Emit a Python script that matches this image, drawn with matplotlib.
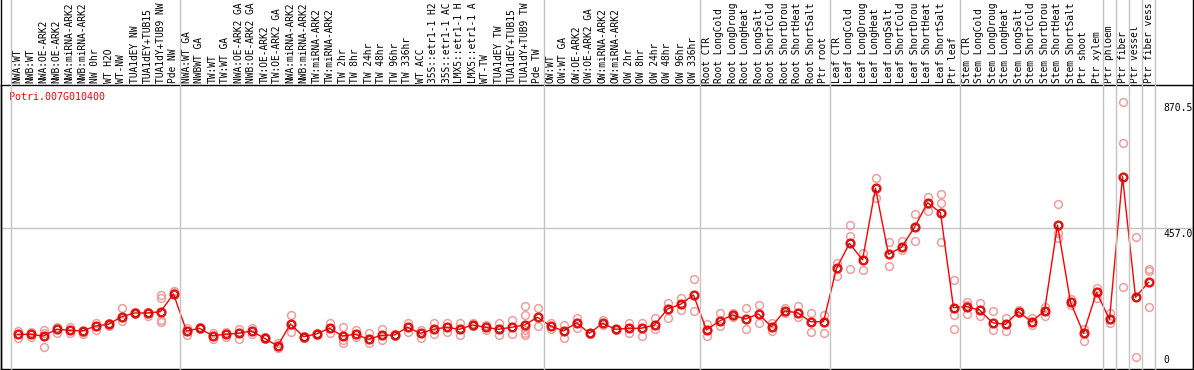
import matplotlib
matplotlib.use("Agg")
import matplotlib.pyplot as plt
from matplotlib.lines import Line2D
from matplotlib import transforms

# ---------------- data ----------------
group1 = ["NWA:WT", "NWB:WT", "NWA:OE-ARK2", "NWB:OE-ARK2", "NWA:miRNA-ARK2",
          "NWB:miRNA-ARK2", "NW 0hr", "WT H2O", "WT-NW", "TUA1dEY NW",
          "TUA1dEY+TUB15", "TUA1dY+TUB9 NW", "Pde NW"]
group2 = ["NWA:WT GA", "NWBWT GA", "TW:WT", "TW:WT GA", "NWA:OE-ARK2 GA",
          "NWB:OE-ARK2 GA", "TW:OE-ARK2", "TW:OE-ARK2 GA", "NWA:miRNA-ARK2",
          "NWB:miRNA-ARK2", "TW:miRNA-ARK2", "TW:miRNA-ARK2", "TW 2hr",
          "TW 8hr", "TW 24hr", "TW 48hr", "TW 96hr", "TW 336hr", "WT ACC",
          "35S::etr1-1 H2", "35S::etr1-1 AC", "LMX5::etr1-1 H",
          "LMX5::etr1-1 A", "WT-TW", "TUA1dEY TW", "TUA1dEY+TUB15",
          "TUA1dY+TUB9 TW", "Pde TW"]
group3 = ["OW:WT", "OW:WT GA", "OW:OE-ARK2", "OW:OE-ARK2 GA", "OW:miRNA-ARK2",
          "OW:miRNA-ARK2", "OW 2hr", "OW 8hr", "OW 24hr", "OW 48hr",
          "OW 96hr", "OW 336hr"]
group4 = ["Root CTR", "Root LongCold", "Root LongDroug", "Root LongHeat",
          "Root LongSalt", "Root ShortCold", "Root ShortDrou",
          "Root ShortHeat", "Root ShortSalt", "Ptr root"]
group5 = ["Leaf CTR", "Leaf LongCold", "Leaf LongDroug", "Leaf LongHeat",
          "Leaf LongSalt", "Leaf ShortCold", "Leaf ShortDrou",
          "Leaf ShortHeat", "Leaf ShortSalt", "Ptr leaf"]
group6 = ["Stem CTR", "Stem LongCold", "Stem LongDroug", "Stem LongHeat",
          "Stem LongSalt", "Stem ShortCold", "Stem ShortDrou",
          "Stem ShortHeat", "Stem ShortSalt", "Ptr shoot", "Ptr xylem"]
group7 = ["Ptr phloem", "Ptr fiber", "Ptr vessel", "Ptr fiber vess"]
groups = [group1, group2, group3, group4, group5, group6, group7]
# Ptr phloem..fiber vessel are each separated by their own lines
separators_after_single = ["Ptr phloem", "Ptr fiber", "Ptr vessel"]

means = [110.3, 110.3, 104.7, 126.7, 123.4, 121.1, 137.5, 143.0, 167.9, 180.0,
         180.0, 184.3, 242.2,
         121.1, 130.0, 105.7, 110.3, 113.6, 121.1, 97.2, 72.0, 144.0, 102.5,
         111.3, 130.0, 104.7, 110.3, 93.9, 107.0, 108.0, 133.2, 113.6, 126.7,
         133.2, 126.7, 140.8, 133.2, 126.7, 133.2, 140.8, 166.0,
         137.5, 121.1, 148.3, 113.6, 146.3, 126.7, 130.0, 130.0, 140.8, 193.1,
         208.5, 239.0,
         124.4, 153.8, 173.5, 160.4, 176.8, 135.2, 186.6, 181.0, 151.6, 151.6,
         326.3, 408.2, 353.5, 588.2, 372.2, 395.1, 460.6, 541.1, 508.3, 197.4,
         200.7, 189.9, 148.3, 143.0, 184.3, 151.6, 186.6, 468.1, 215.1, 113.6,
         247.8,
         159.4, 626.2, 231.4, 280.5]

replicates = [
    [121.1, 99.2], [118.8, 102.5], [124.4, 67.8, 113.6], [135.2, 113.6],
    [135.2, 113.6], [118.8, 110.3], [146.3, 124.4], [146.3, 137.5],
    [195.4, 153.8], [178, 182], [184.3, 170.2], [239.0, 228.2, 157.1, 151.6],
    [253.0, 247.8],
    [131.9, 108.0], [133, 127], [113.6, 94.9], [118.8, 102.5], [126.7, 94.9],
    [131.9, 110.3], [100, 94], [82.8, 64.5], [173.5, 118.8], [106, 99],
    [113.6, 109], [148.3, 113.6], [135.2, 91.7, 80.9], [124.4, 102.5],
    [113.6, 80.9], [126.7, 91.7], [111, 105], [146.3, 118.8], [124.4, 97.2],
    [146.3, 110.3], [148.3, 118.8], [148.3, 108.0], [146.3, 136],
    [140.8, 124.4], [148.3, 108.0], [157.1, 111.3],
    [202.9, 173.5, 124.4, 115, 108.0], [195.4, 137.5],
    [148.3, 126.7], [140.8, 97.2], [162.7, 130.0], [116, 111], [157.1, 140.8],
    [129, 124], [148.3, 113.6], [146.3, 104.7], [164.6, 126.7],
    [211.8, 162.7], [228.2, 189.9], [291.3, 187.6],
    [105.7, 143], [181.0, 137.5], [179.0, 168], [197.4, 126.7],
    [206.2, 148.3], [148.3, 121.1], [197.4, 179.0], [202.9, 167.9],
    [179.0, 116.9], [173.5, 113.6],
    [342.7, 301.1], [468.1, 432.1, 324.1], [377.4, 320.8], [620.9, 555.5],
    [413.4, 333.9], [416.7, 386.2], [503.1, 415.7], [560.7, 514.9],
    [569.6, 539.1, 413.4], [288.1, 173.5, 126.7],
    [215.1, 206.2, 176.8], [213.7, 170.2], [186.6, 124.4], [162.7, 121.1],
    [189.9, 180], [162.7, 140.8], [200.7, 170.2], [535.8, 442.9, 425.5],
    [224.9, 206.2], [126.7, 89.4], [260.9, 228.2],
    [179.0, 146.3], [870.5, 735.5, 264.2], [35.0, 427.8], [323.1, 318, 198.7],
]

title = "Potri.007G010400"
ytick_values = [0, 457.0, 870.5]
ytick_labels = ["0", "457.0", "870.5"]

# ---------------- figure ----------------
labels = [lab for g in groups for lab in g]
n = len(labels)

W, H, DPI = 1194, 370, 100
fig = plt.figure(figsize=(W / DPI, H / DPI), dpi=DPI)
ax_left, ax_right, ax_top, ax_bottom = 1, 1193, 85, 369
ax = fig.add_axes([ax_left / W, (H - ax_bottom) / H,
                   (ax_right - ax_left) / W, (ax_bottom - ax_top) / H])

col_w = 13.0
x0_px = 11.0
ax.set_xlim((ax_left - x0_px) / col_w - 0.5, (ax_right - x0_px) / col_w - 0.5)
ax.set_ylim(-3.3, 926.3)
ax.set_xticks([])
ax.set_yticks([])
for s in ax.spines.values():
    s.set_color("black")
    s.set_linewidth(1.0)

grey = "#c4c4c4"
# horizontal gridline
ax.axhline(457.0, color=grey, lw=1.0, zorder=1)

# vertical group separators, through label area
blend = transforms.blended_transform_factory(ax.transData, fig.transFigure)
bounds = [0]
acc = 0
for g in groups:
    acc += len(g)
    bounds.append(acc)
extra = [labels.index(s) + 1 for s in separators_after_single]
for b in sorted(set(bounds + extra)):
    fig.add_artist(Line2D([b - 0.5, b - 0.5], [0, 1],
                          transform=blend, color=grey, lw=1.0, zorder=0.5))

# left / right borders extended up
blend2 = transforms.blended_transform_factory(ax.transAxes, fig.transFigure)
for xa in (0, 1):
    fig.add_artist(Line2D([xa, xa], [0, 1], transform=blend2, color="black", lw=1.0))

xs = list(range(n))
# replicates
rx, ry = [], []
for i, reps in enumerate(replicates):
    for v in reps:
        rx.append(i)
        ry.append(v)
ax.plot(rx, ry, linestyle="none", marker="o", markersize=5.6, markerfacecolor="none",
        markeredgecolor="#ee9e9e", markeredgewidth=1.1, zorder=2)
# mean line
ax.plot(xs, means, color="#ff0000", lw=1.0, zorder=3)
ax.plot(xs, means, linestyle="none", marker="o", markersize=6.0, markerfacecolor="none",
        markeredgecolor="#ff0000", markeredgewidth=1.3, zorder=4)
ax.plot(xs, means, linestyle="none", marker="o", markersize=4.2, markerfacecolor="none",
        markeredgecolor="#5a0000", markeredgewidth=0.45, zorder=5)

mono = "DejaVu Sans Mono"
# column labels
for i, lab in enumerate(labels):
    ax.annotate(lab, xy=(i, 1), xycoords=("data", "axes fraction"), xytext=(0, 2),
                textcoords="offset pixels", rotation=90, ha="center", va="bottom",
                fontsize=6.9, family=mono, color="black", annotation_clip=False)

# y labels
for v, t in zip(ytick_values, ytick_labels):
    if v == 0:
        ax.annotate(t, xy=(1, v), xycoords=("axes fraction", "data"), xytext=(-30, 3),
                    textcoords="offset pixels", ha="left", va="bottom",
                    fontsize=7.0, family=mono, color="black")
    else:
        ax.annotate(t, xy=(1, v), xycoords=("axes fraction", "data"), xytext=(-30, -1),
                    textcoords="offset pixels", ha="left", va="top",
                    fontsize=7.0, family=mono, color="black")

ax.annotate(title, xy=(0, 1), xycoords="axes fraction", xytext=(8, -7),
            textcoords="offset pixels", ha="left", va="top", fontsize=7.2,
            family=mono, color="#ff0000")

fig.savefig("out.png", dpi=DPI)
